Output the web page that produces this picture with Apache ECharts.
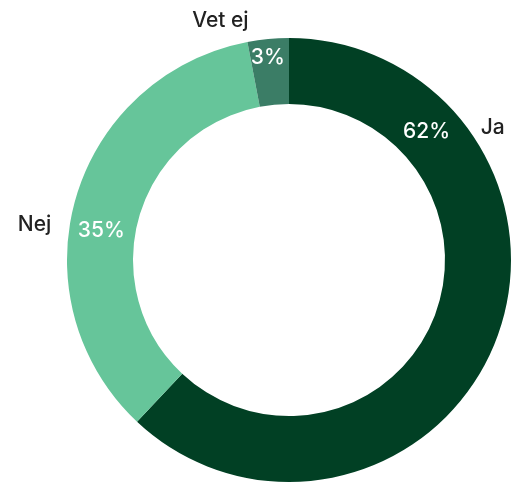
<!DOCTYPE html>
<html>
<head>
<meta charset="utf-8">
<script src="https://cdn.jsdelivr.net/npm/echarts@6/dist/echarts.min.js"></script>
<style>
	html, body { margin: 0; padding: 0; background: #fff; }
	#chart { width: 512px; height: 484px; }
</style>
</head>
<body>
<div id="chart"></div>
<script>
	// svar
	var categories = ['Ja', 'Nej', 'Vet ej'];
	var values = [62, 35, 3];
	var colors = ['#014024', '#66c59a', '#3b7d66'];

	// var etiketterna hamnar (grader medurs från toppen, avstånd från mitten)
	var cx = 289, cy = 260;
	var innerPos = [[47, 188], [279, 190], [354, 203]];
	var outerPos = [[57, 243], [278, 257], [344, 249]];

	function polar(p) {
		var a = p[0] * Math.PI / 180;
		return { x: cx + p[1] * Math.sin(a), y: cy - p[1] * Math.cos(a) };
	}

	var pieData = categories.map(function(name, i) {
		return { name: name, value: values[i], itemStyle: { color: colors[i] } };
	});

	var myChart = echarts.init(document.getElementById('chart'));
	myChart.setOption({
		animation: false,
		series: [
			{
				type: 'pie',
				center: [cx, cy],
				radius: [156, 222],
				startAngle: 90,
				clockwise: true,
				silent: true,
				avoidLabelOverlap: false,
				data: pieData,
				label: {
					show: true,
					position: 'inside',
					formatter: '{c}%',
					color: '#fff',
					fontFamily: 'Inter',
					fontWeight: 500,
					fontSize: 21,
					overflow: 'none'
				},
				labelLine: { show: false },
				labelLayout: function(params) {
					var p = polar(innerPos[params.dataIndex]);
					return { x: p.x, y: p.y, align: 'center', verticalAlign: 'middle', hideOverlap: false };
				}
			},
			{
				type: 'pie',
				center: [cx, cy],
				radius: [156, 222],
				startAngle: 90,
				clockwise: true,
				silent: true,
				avoidLabelOverlap: false,
				data: categories.map(function(name, i) {
					return { name: name, value: values[i], itemStyle: { color: 'transparent' } };
				}),
				label: {
					show: true,
					position: 'inside',
					formatter: '{b}',
					color: '#222',
					fontFamily: 'Inter',
					fontWeight: 500,
					fontSize: 21,
					overflow: 'none'
				},
				labelLine: { show: false },
				labelLayout: function(params) {
					var p = polar(outerPos[params.dataIndex]);
					return { x: p.x, y: p.y, align: 'center', verticalAlign: 'middle', hideOverlap: false };
				}
			}
		]
	});
</script>
</body>
</html>
